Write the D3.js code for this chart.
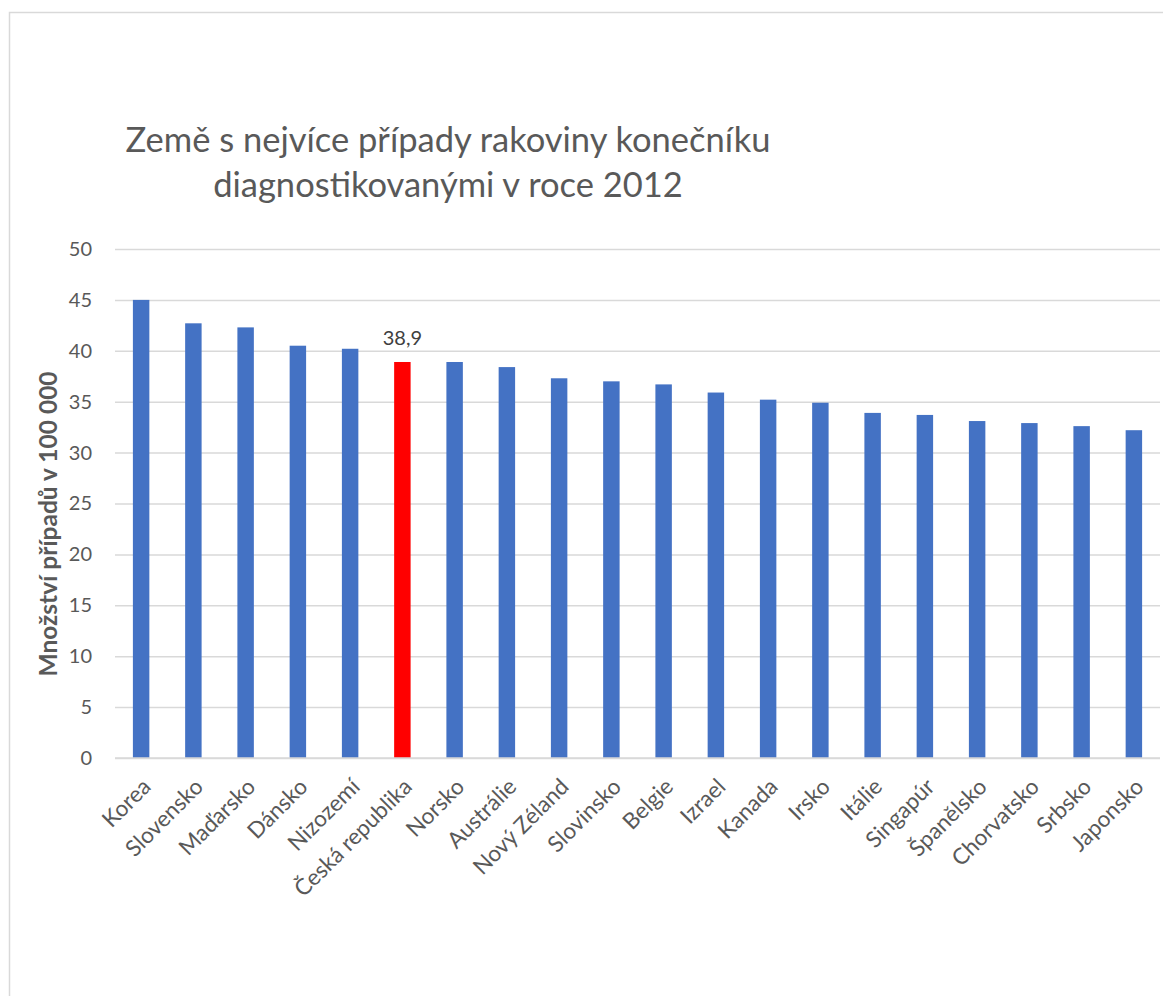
<!DOCTYPE html>
<html>
<head>
<meta charset="utf-8">
<script src="https://cdn.jsdelivr.net/npm/d3@7"></script>
<style>
  html, body { margin: 0; padding: 0; background: #fff; }
  svg { display: block; }
  text { font-family: Lato, "Open Sans", sans-serif; }
</style>
</head>
<body>
<svg id="chart" width="1163" height="996"></svg>
<script>
// Incidence of rectal cancer per 100 000 inhabitants, 2012
const countries = ["Korea", "Slovensko", "Maďarsko", "Dánsko", "Nizozemí", "Česká republika",
  "Norsko", "Austrálie", "Nový Zéland", "Slovinsko", "Belgie", "Izrael", "Kanada", "Irsko",
  "Itálie", "Singapúr", "Španělsko", "Chorvatsko", "Srbsko", "Japonsko"];
const cases = [45.0, 42.7, 42.3, 40.5, 40.2, 38.9, 38.9, 38.4, 37.3, 37.0, 36.7, 35.9, 35.2,
  34.9, 33.9, 33.7, 33.1, 32.9, 32.6, 32.2];
const highlighted = ["Česká republika"];
const yTicks = [0, 5, 10, 15, 20, 25, 30, 35, 40, 45, 50];
const titleLines = ["Země s nejvíce případy rakoviny konečníku", "diagnostikovanými v roce 2012"];
const yAxisTitle = "Množství případů v 100 000";

const svg = d3.select("#chart");

// outer chart frame
svg.append("rect")
  .attr("x", 9.5).attr("y", 12.5)
  .attr("width", 1200).attr("height", 1100)
  .attr("fill", "#fff").attr("stroke", "#d9d9d9").attr("stroke-width", 1.5);

const plot = { left: 115, right: 1160, top: 249, bottom: 758 };

const x = d3.scaleBand()
  .domain(countries)
  .range([plot.left, plot.right])
  .paddingInner(0.685)
  .paddingOuter(0.3425);

const y = d3.scaleLinear()
  .domain([0, 50])
  .range([plot.bottom, plot.top]);

// horizontal gridlines + tick labels
const yAxis = d3.axisLeft(y)
  .tickValues(yTicks)
  .tickSize(-(plot.right - plot.left))
  .tickPadding(23)
  .tickFormat(d3.format("d"));

const gy = svg.append("g")
  .attr("transform", `translate(${plot.left},0)`)
  .call(yAxis);
gy.select(".domain").remove();
gy.selectAll(".tick line").attr("stroke", "#d9d9d9").attr("stroke-width", 1.5);
gy.selectAll(".tick text")
  .attr("fill", "#595959")
  .attr("font-size", 20)
  .attr("font-family", "Lato, sans-serif");

// bars
svg.append("g").selectAll("rect")
  .data(countries)
  .join("rect")
  .attr("x", d => x(d))
  .attr("width", x.bandwidth())
  .attr("y", (d, i) => y(cases[i]))
  .attr("height", (d, i) => y(0) - y(cases[i]))
  .attr("fill", d => highlighted.includes(d) ? "#ff0000" : "#4472c4");

// value label on the highlighted bar
svg.append("g").selectAll("text")
  .data(countries.map((c, i) => ({ c, v: cases[i] })).filter(d => highlighted.includes(d.c)))
  .join("text")
  .attr("x", d => x(d.c) + x.bandwidth() / 2)
  .attr("y", d => y(d.v) - 17)
  .attr("text-anchor", "middle")
  .attr("fill", "#404040")
  .attr("font-size", 20)
  .text(d => d3.format(".1f")(d.v).replace(".", ","));

// category axis labels, rotated 45°
const xAxis = d3.axisBottom(x).tickSize(0).tickPadding(0);
const gx = svg.append("g")
  .attr("transform", `translate(0,${plot.bottom})`)
  .call(xAxis);
gx.select(".domain").remove();
gx.selectAll(".tick text")
  .attr("fill", "#595959")
  .attr("font-size", 22.5)
  .attr("font-family", "Lato, sans-serif")
  .attr("text-anchor", "end")
  .attr("dy", "0.7em")
  .attr("transform", "translate(0,19) rotate(-45)");

// zero baseline drawn over the bars
svg.append("line")
  .attr("x1", plot.left).attr("x2", plot.right)
  .attr("y1", y(0)).attr("y2", y(0))
  .attr("stroke", "#d9d9d9").attr("stroke-width", 1.5);

// chart title
svg.append("text")
  .attr("x", 448)
  .attr("y", 152)
  .attr("text-anchor", "middle")
  .attr("fill", "#595959")
  .attr("font-size", 34.5)
  .selectAll("tspan")
  .data(titleLines)
  .join("tspan")
  .attr("x", 448)
  .attr("dy", (d, i) => i === 0 ? 0 : 45)
  .text(d => d);

// value axis title
svg.append("text")
  .attr("transform", "translate(57,524) rotate(-90)")
  .attr("text-anchor", "middle")
  .attr("fill", "#595959")
  .attr("font-size", 24.5)
  .attr("font-weight", "bold")
  .text(yAxisTitle);
</script>
</body>
</html>
